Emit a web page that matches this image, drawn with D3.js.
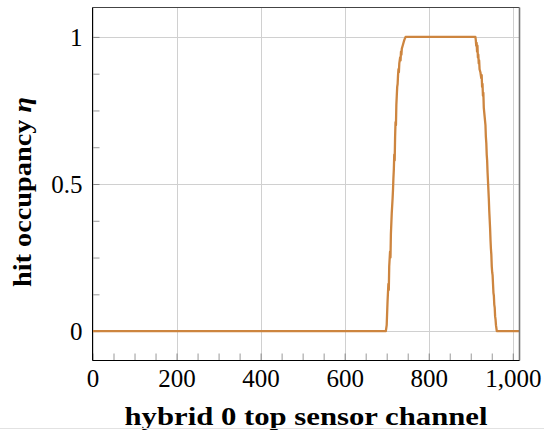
<!DOCTYPE html>
<html>
<head>
<meta charset="utf-8">
<script src="https://cdn.jsdelivr.net/npm/d3@7"></script>
<style>
  body { margin: 0; background: #fff; }
  text { font-family: "Liberation Serif", "DejaVu Serif", serif; fill: #000; }
</style>
</head>
<body>
<div id="chart"></div>
<script>
// hit occupancy per channel (sparse: flat parts only keep their end points)
var canaux = [0, 698, 700, 702, 704, 705, 706, 708, 709, 710, 712, 714, 715, 716, 717, 718, 719, 720, 721, 722, 723, 724, 725, 726, 727, 728, 729, 730, 732, 733, 734, 735, 736, 738, 740, 742, 745,
  911, 912, 913, 914, 915, 916, 917, 918, 919, 920, 921, 923, 925, 926, 927, 928, 929, 930, 931, 933, 935, 936, 937, 938, 939, 940, 941, 942, 943, 944, 945, 946, 947, 948, 949, 950, 951, 952, 953, 954, 955, 956, 957, 958, 959, 960, 962, 1016];
var occupation = [0, 0, 0.02, 0.10, 0.16, 0.14, 0.22, 0.27, 0.25, 0.33, 0.40, 0.45, 0.48, 0.52, 0.55, 0.60, 0.58, 0.66, 0.71, 0.70, 0.77, 0.80, 0.83, 0.84, 0.87, 0.89, 0.88, 0.91, 0.93, 0.92, 0.95, 0.94, 0.96, 0.97, 0.98, 0.99, 1.0,
  1.0, 0.99, 0.97, 0.98, 0.95, 0.97, 0.93, 0.94, 0.91, 0.92, 0.89, 0.88, 0.86, 0.87, 0.83, 0.84, 0.80, 0.81, 0.76, 0.73, 0.70, 0.66, 0.64, 0.60, 0.58, 0.54, 0.51, 0.48, 0.45, 0.41, 0.38, 0.35, 0.31, 0.28, 0.26, 0.22, 0.20, 0.19, 0.16, 0.13, 0.12, 0.09, 0.08, 0.05, 0.04, 0.02, 0, 0];

var xTicks = [0, 200, 400, 600, 800, 1000];
var xMinorTicks = [50, 100, 150, 250, 300, 350, 450, 500, 550, 650, 700, 750, 850, 900, 950];
var yTicks = [0, 0.5, 1];
var yMinorTicks = [0.125, 0.25, 0.375, 0.625, 0.75, 0.875];

var largeur = 544, hauteur = 431;
var gauche = 92.5, droite = 519.5, haut = 7.5, bas = 360.5;

var svg = d3.select("#chart").append("svg").attr("width", largeur).attr("height", hauteur);

var x = d3.scaleLinear().domain([0, 1016]).range([gauche, droite]);
var y = d3.scaleLinear().domain([-0.1, 1.1]).range([bas, haut]);

// grille
svg.append("g").selectAll("line").data(xTicks).join("line")
    .attr("x1", d => Math.round(x(d)) + 0.5).attr("x2", d => Math.round(x(d)) + 0.5)
    .attr("y1", haut).attr("y2", bas)
    .attr("stroke", "#d0d0d0").attr("stroke-width", 1);
svg.append("g").selectAll("line").data(yTicks).join("line")
    .attr("x1", gauche).attr("x2", droite)
    .attr("y1", d => Math.round(y(d)) + 0.5).attr("y2", d => Math.round(y(d)) + 0.5)
    .attr("stroke", "#d0d0d0").attr("stroke-width", 1);

// petites graduations (vers l'interieur)
var axeX = d3.axisBottom(x).tickValues(xMinorTicks).tickSize(-7).tickFormat("");
var gx2 = svg.append("g").attr("transform", "translate(0," + bas + ")").call(axeX);
gx2.select(".domain").remove();
gx2.selectAll("line").attr("stroke", "#999");

var axeY = d3.axisLeft(y).tickValues(yMinorTicks).tickSize(-7).tickFormat("");
var gy2 = svg.append("g").attr("transform", "translate(" + gauche + ",0)").call(axeY);
gy2.select(".domain").remove();
gy2.selectAll("line").attr("stroke", "#999");

// graduations principales + etiquettes
var gx = svg.append("g").attr("transform", "translate(0," + bas + ")")
    .call(d3.axisBottom(x).tickValues(xTicks).tickSize(-7).tickPadding(0).tickFormat(d3.format(",")));
gx.select(".domain").remove();
gx.selectAll("line").attr("stroke", "#888");
gx.selectAll("text").attr("y", 26).attr("dy", null)
    .style("font-family", "Liberation Serif").style("font-size", "25px");

var gy = svg.append("g").attr("transform", "translate(" + gauche + ",0)")
    .call(d3.axisLeft(y).tickValues(yTicks).tickSize(-7).tickPadding(0).tickFormat(d3.format("")));
gy.select(".domain").remove();
gy.selectAll("line").attr("stroke", "#888");
gy.selectAll("text").attr("x", -10).attr("dy", "0.34em")
    .style("font-family", "Liberation Serif").style("font-size", "25px");

// courbe
var ligne = d3.line().x(d => x(d[0])).y(d => y(d[1]));
svg.append("path")
    .datum(d3.zip(canaux, occupation))
    .attr("d", ligne)
    .attr("fill", "none")
    .attr("stroke", "#cd853f")
    .attr("stroke-width", 2.3)
    .attr("stroke-linejoin", "round");

// cadre
svg.append("line").attr("x1", gauche).attr("x2", droite).attr("y1", haut).attr("y2", haut)
    .attr("stroke", "#444").attr("stroke-width", 1);
svg.append("line").attr("x1", droite).attr("x2", droite).attr("y1", haut).attr("y2", bas)
    .attr("stroke", "#777").attr("stroke-width", 1.6);
svg.append("line").attr("x1", gauche).attr("x2", gauche).attr("y1", haut).attr("y2", bas)
    .attr("stroke", "#000").attr("stroke-width", 1);
svg.append("line").attr("x1", gauche).attr("x2", droite).attr("y1", bas).attr("y2", bas)
    .attr("stroke", "#000").attr("stroke-width", 1);

// titres des axes
svg.append("text")
    .attr("x", (gauche + droite) / 2).attr("y", 425)
    .attr("text-anchor", "middle")
    .attr("textLength", 363).attr("lengthAdjust", "spacingAndGlyphs")
    .style("font-size", "25px").style("font-weight", "bold")
    .text("hybrid 0 top sensor channel");

var titreY = svg.append("text")
    .attr("transform", "translate(31,192) rotate(-90)")
    .attr("text-anchor", "middle")
    .attr("textLength", 190).attr("lengthAdjust", "spacingAndGlyphs")
    .style("font-size", "25px").style("font-weight", "bold");
titreY.append("tspan").text("hit occupancy ");
titreY.append("tspan").style("font-style", "italic").text("η");

// trait gris en bas de la page
svg.append("line").attr("x1", 0).attr("x2", largeur).attr("y1", 428.5).attr("y2", 428.5)
    .attr("stroke", "#e2e2e2").attr("stroke-width", 1);
</script>
</body>
</html>
